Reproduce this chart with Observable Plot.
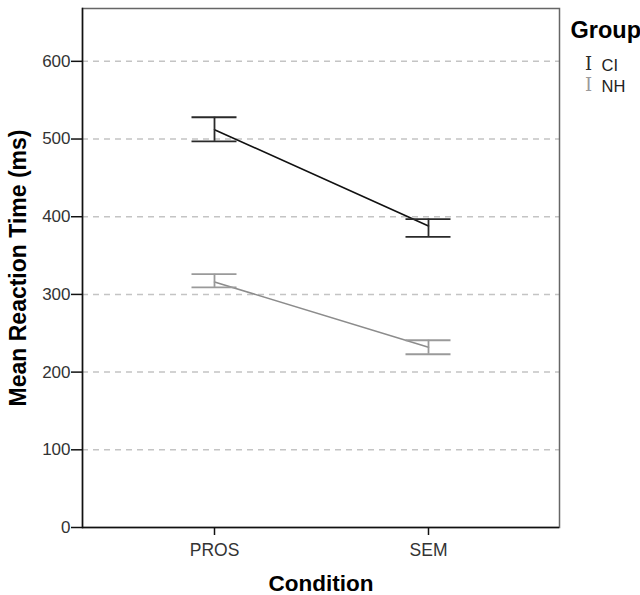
<!DOCTYPE html>
<html>
<head>
<meta charset="utf-8">
<script src="https://cdn.jsdelivr.net/npm/d3@7"></script>
<script src="https://cdn.jsdelivr.net/npm/@observablehq/plot@0.6"></script>
<style>
  body { margin: 0; background: #fff; }
  svg { font-family: "Liberation Sans", Arial, sans-serif; }
</style>
</head>
<body>
<div id="chart"></div>
<script>
const conditions = ["PROS", "SEM"];
const groups = ["CI", "NH"];
const ciMean = [512, 388];
const ciLow = [497, 374];
const ciHigh = [528, 397];
const nhMean = [316, 232];
const nhLow = [309, 223];
const nhHigh = [326, 241];
const yTicks = [0, 100, 200, 300, 400, 500, 600];
const gridTicks = [100, 200, 300, 400, 500, 600];
const colors = {CI: "#111111", NH: "#8c8c8c"};
const barColors = {CI: "#2a2a2a", NH: "#9a9a9a"};

const data = [];
conditions.forEach((c, i) => {
  data.push({condition: c, group: "CI", mean: ciMean[i], low: ciLow[i], high: ciHigh[i]});
  data.push({condition: c, group: "NH", mean: nhMean[i], low: nhLow[i], high: nhHigh[i]});
});

const legendRowDy = [61, 82];
const legendMarks = groups.flatMap((g, i) => [
  Plot.text([g], {frameAnchor: "top-right", dx: 29, dy: legendRowDy[i], text: () => "I", fontFamily: "DejaVu Serif, serif", fontSize: 18, fill: barColors[g], textAnchor: "middle", lineAnchor: "bottom"}),
  Plot.text([g], {frameAnchor: "top-right", dx: 42, dy: legendRowDy[i] + 1, text: d => d, fontSize: 16.5, fill: "#222", textAnchor: "start", lineAnchor: "bottom"})
]);

const chart = Plot.plot({
  width: 640,
  height: 595,
  marginLeft: 82,
  marginRight: 81,
  marginTop: 8,
  marginBottom: 68,
  style: {fontFamily: "Liberation Sans, Arial, sans-serif", background: "#fff"},
  x: {type: "point", domain: conditions, padding: 0.61, label: null},
  y: {domain: [0, 668], label: null},
  marks: [
    Plot.gridY(gridTicks, {stroke: "#c4c4c4", strokeOpacity: 1, strokeWidth: 1.5, strokeDasharray: "6,5"}),
    Plot.frame({stroke: "#666", strokeWidth: 1.5}),
    Plot.axisY(yTicks, {tickSize: 11, tickPadding: 1, fontSize: 17, color: "#333", stroke: "#111", strokeWidth: 1.5, label: null}),
    Plot.axisX({tickSize: 8, tickPadding: 8, fontSize: 17.5, color: "#333", stroke: "#111", strokeWidth: 1.5, label: null}),
    Plot.ruleY([0], {stroke: "#111", strokeWidth: 1.5}),
    Plot.frame({anchor: "left", stroke: "#111", strokeWidth: 1.5}),
    Plot.line(data, {x: "condition", y: "mean", z: "group", stroke: d => colors[d.group], strokeWidth: 1.6}),
    Plot.ruleX(data, {x: "condition", y1: "low", y2: "high", stroke: d => barColors[d.group], strokeWidth: 1.8}),
    Plot.ruleY(data, {x1: "condition", x2: "condition", y: "low", insetLeft: -22.5, insetRight: -22.5, stroke: d => barColors[d.group], strokeWidth: 1.8}),
    Plot.ruleY(data, {x1: "condition", x2: "condition", y: "high", insetLeft: -22.5, insetRight: -22.5, stroke: d => barColors[d.group], strokeWidth: 1.8}),
    Plot.text(["Mean Reaction Time (ms)"], {frameAnchor: "left", dx: -64, rotate: -90, text: d => d, fontSize: 23, fontWeight: "bold", fill: "#000", textAnchor: "middle", lineAnchor: "middle"}),
    Plot.text(["Condition"], {frameAnchor: "bottom", dy: 63, text: d => d, fontSize: 22.5, fontWeight: "bold", fill: "#000", textAnchor: "middle", lineAnchor: "bottom"}),
    Plot.text(["Group"], {frameAnchor: "top-right", dx: 11, dy: 29, text: d => d, fontSize: 23.5, fontWeight: "bold", fill: "#000", textAnchor: "start", lineAnchor: "bottom"}),
    ...legendMarks
  ]
});

document.getElementById("chart").appendChild(chart);
</script>
</body>
</html>
